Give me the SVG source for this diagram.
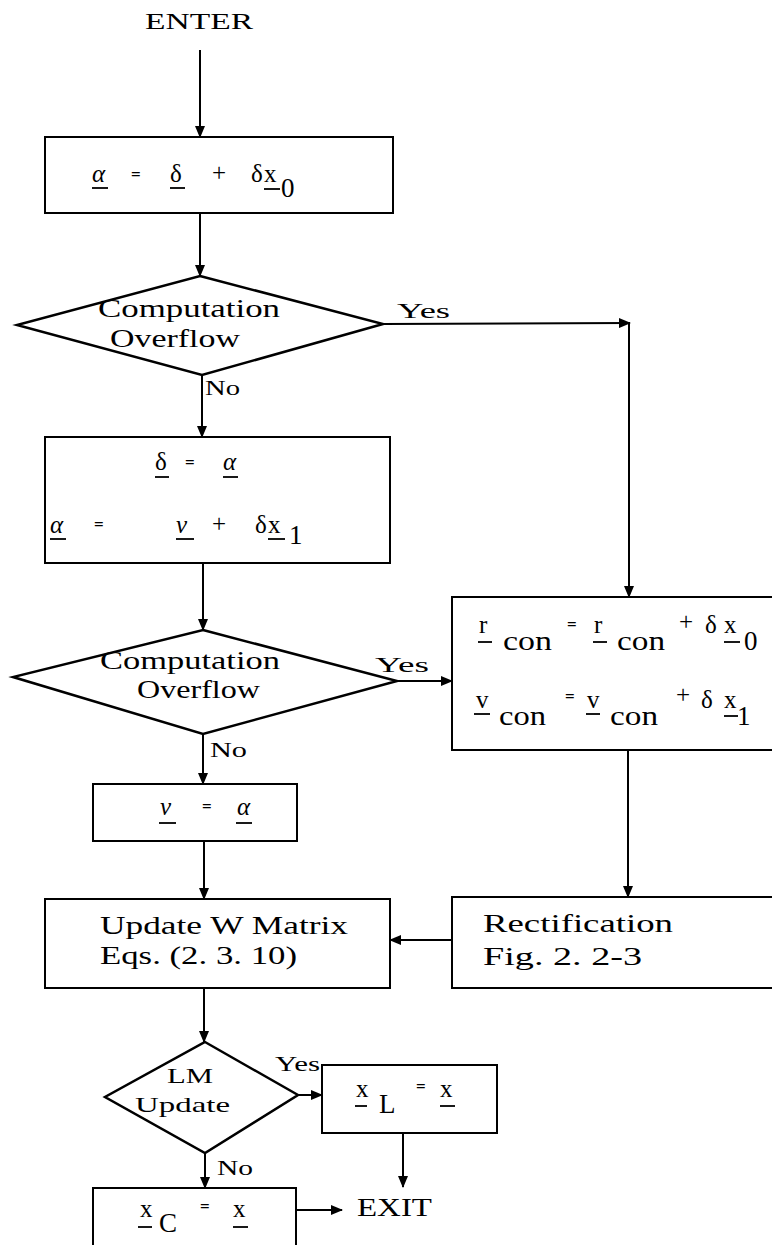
<svg xmlns="http://www.w3.org/2000/svg" width="772" height="1245" viewBox="0 0 772 1245">
<defs>
<marker id="ah" markerUnits="userSpaceOnUse" markerWidth="12" markerHeight="10" refX="11" refY="5" orient="auto">
<path d="M0,0 L12,5 L0,10 z" fill="#000"/>
</marker>
<style>
.box{fill:none;stroke:#000;stroke-width:2}
.dia{fill:none;stroke:#000;stroke-width:2.5}
.c{fill:none;stroke:#000;stroke-width:2;marker-end:url(#ah)}
.ul{stroke:#000;stroke-width:1.8}
text{font-family:"Liberation Serif","DejaVu Serif",serif;fill:#000}
.t{font-size:26px}
.lb{font-size:22px}
.m{font-size:25px}
.mi{font-size:25px;font-style:italic}
.eq{font-size:17px;font-weight:bold}
.sub{font-size:27px}
</style>
</defs>
<rect width="772" height="1245" fill="#fff"/>

<g id="enter"><text x="145" y="29" font-size="23" textLength="108" lengthAdjust="spacingAndGlyphs">ENTER</text></g>

<g id="box1">
<rect class="box" x="45" y="137" width="348" height="76"/>
<text class="mi" x="92" y="182">α</text><line class="ul" x1="92" y1="188" x2="108" y2="188"/>
<text class="eq" x="131" y="180">=</text>
<text class="m" x="170" y="182">δ</text><line class="ul" x1="170" y1="188" x2="185" y2="188"/>
<text class="m" x="212" y="181">+</text>
<text class="m" x="251" y="182">δ</text>
<text class="m" x="264" y="182">x</text><line class="ul" x1="264" y1="189" x2="280" y2="189"/>
<text class="sub" x="281" y="197">0</text>
</g>

<g id="dec1">
<polygon class="dia" points="200,276 383,324 202,375 17,325"/>
<text class="t" x="98" y="317" textLength="182" lengthAdjust="spacingAndGlyphs">Computation</text>
<text class="t" x="110" y="347" textLength="130" lengthAdjust="spacingAndGlyphs">Overflow</text>
</g>

<g id="box2">
<rect class="box" x="45" y="437" width="345" height="126"/>
<text class="m" x="155" y="470">δ</text><line class="ul" x1="155" y1="477" x2="169" y2="477"/>
<text class="eq" x="185" y="468">=</text>
<text class="mi" x="223" y="470">α</text><line class="ul" x1="223" y1="477" x2="238" y2="477"/>
<text class="mi" x="50" y="533">α</text><line class="ul" x1="50" y1="539" x2="66" y2="539"/>
<text class="eq" x="94" y="530">=</text>
<text class="mi" x="176" y="533">ν</text><line class="ul" x1="176" y1="539" x2="194" y2="539"/>
<text class="m" x="212" y="532">+</text>
<text class="m" x="255" y="533">δ</text>
<text class="m" x="268" y="533">x</text><line class="ul" x1="268" y1="539" x2="285" y2="539"/>
<text class="sub" x="289" y="544">1</text>
</g>

<g id="dec2">
<polygon class="dia" points="203,630 397,681 203,734 13,677"/>
<text class="t" x="100" y="669" textLength="180" lengthAdjust="spacingAndGlyphs">Computation</text>
<text class="t" x="137" y="698" textLength="123" lengthAdjust="spacingAndGlyphs">Overflow</text>
</g>

<g id="box3">
<rect class="box" x="452" y="597" width="340" height="153"/>
<text class="m" x="479" y="633">r</text><line class="ul" x1="478" y1="642" x2="492" y2="642"/>
<text class="sub" x="503" y="650" textLength="49" lengthAdjust="spacingAndGlyphs">con</text>
<text class="eq" x="567" y="630">=</text>
<text class="m" x="594" y="633">r</text><line class="ul" x1="593" y1="642" x2="607" y2="642"/>
<text class="sub" x="617" y="650" textLength="48" lengthAdjust="spacingAndGlyphs">con</text>
<text class="m" x="679" y="630">+</text>
<text class="m" x="705" y="633">δ</text>
<text class="m" x="724" y="633">x</text><line class="ul" x1="724" y1="642" x2="740" y2="642"/>
<text class="sub" x="744" y="650">0</text>
<text class="m" x="476" y="708">v</text><line class="ul" x1="474" y1="714" x2="490" y2="714"/>
<text class="sub" x="499" y="725" textLength="47" lengthAdjust="spacingAndGlyphs">con</text>
<text class="eq" x="565" y="702">=</text>
<text class="m" x="587" y="708">v</text><line class="ul" x1="586" y1="714" x2="600" y2="714"/>
<text class="sub" x="610" y="725" textLength="48" lengthAdjust="spacingAndGlyphs">con</text>
<text class="m" x="676" y="703">+</text>
<text class="m" x="701" y="708">δ</text>
<text class="m" x="724" y="708">x</text><line class="ul" x1="724" y1="716" x2="738" y2="716"/>
<text class="sub" x="737" y="725">1</text>
</g>

<g id="box4">
<rect class="box" x="93" y="784" width="204" height="57"/>
<text class="mi" x="160" y="815">ν</text><line class="ul" x1="159" y1="823" x2="176" y2="823"/>
<text class="eq" x="202" y="812">=</text>
<text class="mi" x="237" y="815">α</text><line class="ul" x1="236" y1="823" x2="252" y2="823"/>
</g>

<g id="box5">
<rect class="box" x="45" y="899" width="345" height="89"/>
<text class="t" x="100" y="934" textLength="248" lengthAdjust="spacingAndGlyphs">Update W Matrix</text>
<text class="t" x="100" y="964" textLength="197" lengthAdjust="spacingAndGlyphs">Eqs. (2. 3. 10)</text>
</g>

<g id="box6">
<rect class="box" x="452" y="897" width="340" height="91"/>
<text class="t" x="483" y="932" textLength="190" lengthAdjust="spacingAndGlyphs">Rectification</text>
<text class="t" x="483" y="965" textLength="159" lengthAdjust="spacingAndGlyphs">Fig. 2. 2-3</text>
</g>

<g id="dec3">
<polygon class="dia" points="205,1042 298,1095 205,1153 105,1097"/>
<text class="lb" x="167" y="1083" textLength="46" lengthAdjust="spacingAndGlyphs">LM</text>
<text class="lb" x="135" y="1112" textLength="95" lengthAdjust="spacingAndGlyphs">Update</text>
</g>

<g id="box7">
<rect class="box" x="322" y="1065" width="175" height="68"/>
<text class="m" x="356" y="1097">x</text><line class="ul" x1="355" y1="1106" x2="367" y2="1106"/>
<text class="sub" x="379" y="1113">L</text>
<text class="eq" x="416" y="1092">=</text>
<text class="m" x="440" y="1097">x</text><line class="ul" x1="440" y1="1106" x2="455" y2="1106"/>
</g>

<g id="box8">
<rect class="box" x="93" y="1188" width="203" height="70"/>
<text class="m" x="140" y="1217">x</text><line class="ul" x1="138" y1="1227" x2="152" y2="1227"/>
<text class="sub" x="159" y="1232">C</text>
<text class="eq" x="200" y="1212">=</text>
<text class="m" x="233" y="1217">x</text><line class="ul" x1="233" y1="1227" x2="248" y2="1227"/>
</g>

<g id="exit"><text x="357" y="1216" font-size="26" textLength="75" lengthAdjust="spacingAndGlyphs">EXIT</text></g>

<g id="labels">
<text class="lb" x="397" y="318" textLength="53" lengthAdjust="spacingAndGlyphs">Yes</text>
<text class="lb" x="205" y="395" textLength="35" lengthAdjust="spacingAndGlyphs">No</text>
<text class="lb" x="375" y="672" textLength="54" lengthAdjust="spacingAndGlyphs">Yes</text>
<text class="lb" x="210" y="757" textLength="37" lengthAdjust="spacingAndGlyphs">No</text>
<text x="275" y="1071" font-size="21" textLength="45" lengthAdjust="spacingAndGlyphs">Yes</text>
<text x="217" y="1175" font-size="21" textLength="36" lengthAdjust="spacingAndGlyphs">No</text>
</g>

<g id="connectors">
<path class="c" d="M200,50 L200,137"/>
<path class="c" d="M200,213 L200,276"/>
<path class="c" d="M383,324 L630,323"/>
<path class="c" d="M629,323 L629,597"/>
<path class="c" d="M202,375 L202,437"/>
<path class="c" d="M203,563 L203,630"/>
<path class="c" d="M397,681 L452,681"/>
<path class="c" d="M203,734 L203,784"/>
<path class="c" d="M204,841 L204,899"/>
<path class="c" d="M628,750 L628,897"/>
<path class="c" d="M452,940 L390,940"/>
<path class="c" d="M204,988 L204,1042"/>
<path class="c" d="M298,1095 L322,1095"/>
<path class="c" d="M205,1153 L205,1188"/>
<path class="c" d="M403,1133 L403,1187"/>
<path class="c" d="M296,1210 L342,1210"/>
</g>
</svg>
